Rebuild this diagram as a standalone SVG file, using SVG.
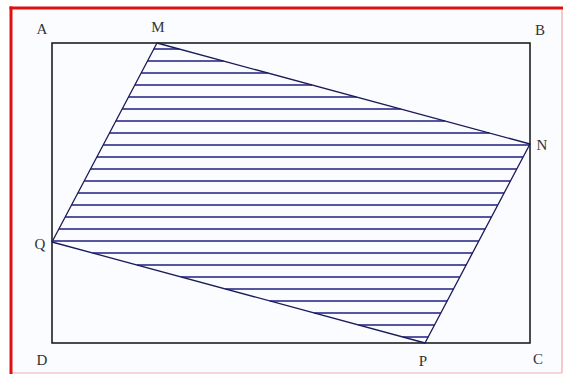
<svg xmlns="http://www.w3.org/2000/svg" width="566" height="376" viewBox="0 0 566 376">
<style>
.lbl{font-family:"Liberation Serif","Times New Roman",serif;font-size:15px;fill:#333;text-anchor:middle}
.hatch line{stroke:#1e1e80;stroke-width:1.5}
.edge{fill:none;stroke:#1a1a5a;stroke-width:1.3;stroke-linejoin:round}
.rect{fill:none;stroke:#111;stroke-width:1.5}
</style>
<rect x="0" y="0" width="566" height="376" fill="#fff"/>
<rect x="11" y="8" width="551" height="365" fill="#fbfcff"/>
<line x1="562" y1="8" x2="562" y2="373" stroke="#f4b8b8" stroke-width="1.5"/>
<line x1="11" y1="373" x2="562" y2="373" stroke="#f4c8c8" stroke-width="1.5"/>
<line x1="9.5" y1="8" x2="563" y2="8" stroke="#dd1111" stroke-width="3"/>
<line x1="11" y1="6.5" x2="11" y2="374" stroke="#dd1111" stroke-width="3"/>
<g id="rectangle-ABCD">
<rect class="rect" x="52" y="43" width="478" height="300"/>
</g>
<g id="hatching" class="hatch">
<line x1="153.8" y1="49" x2="179.2" y2="49"/>
<line x1="147.5" y1="61" x2="223.5" y2="61"/>
<line x1="141.2" y1="73" x2="267.8" y2="73"/>
<line x1="134.8" y1="85" x2="312.1" y2="85"/>
<line x1="128.5" y1="97" x2="356.4" y2="97"/>
<line x1="122.2" y1="109" x2="400.7" y2="109"/>
<line x1="115.8" y1="121" x2="445.1" y2="121"/>
<line x1="109.5" y1="133" x2="489.4" y2="133"/>
<line x1="103.2" y1="145" x2="529.5" y2="145"/>
<line x1="96.8" y1="157" x2="523.1" y2="157"/>
<line x1="90.5" y1="169" x2="516.8" y2="169"/>
<line x1="84.2" y1="181" x2="510.5" y2="181"/>
<line x1="77.9" y1="193" x2="504.1" y2="193"/>
<line x1="71.5" y1="205" x2="497.8" y2="205"/>
<line x1="65.2" y1="217" x2="491.5" y2="217"/>
<line x1="58.9" y1="229" x2="485.2" y2="229"/>
<line x1="52.5" y1="241" x2="478.8" y2="241"/>
<line x1="92.6" y1="253" x2="472.5" y2="253"/>
<line x1="136.9" y1="265" x2="466.2" y2="265"/>
<line x1="181.3" y1="277" x2="459.8" y2="277"/>
<line x1="225.6" y1="289" x2="453.5" y2="289"/>
<line x1="269.9" y1="301" x2="447.2" y2="301"/>
<line x1="314.2" y1="313" x2="440.8" y2="313"/>
<line x1="358.5" y1="325" x2="434.5" y2="325"/>
<line x1="402.8" y1="337" x2="428.2" y2="337"/>
</g>
<g id="quadrilateral-MNPQ">
<polygon class="edge" points="157,43 530,144 425,343 52,242"/>
</g>
<g id="labels">
<text id="label-A" class="lbl" x="42" y="34">A</text>
<text id="label-M" class="lbl" x="158" y="32">M</text>
<text id="label-B" class="lbl" x="540" y="35">B</text>
<text id="label-N" class="lbl" x="542" y="150">N</text>
<text id="label-Q" class="lbl" x="40" y="249">Q</text>
<text id="label-D" class="lbl" x="42" y="365">D</text>
<text id="label-P" class="lbl" x="423" y="366">P</text>
<text id="label-C" class="lbl" x="538" y="364">C</text>
</g>
</svg>
